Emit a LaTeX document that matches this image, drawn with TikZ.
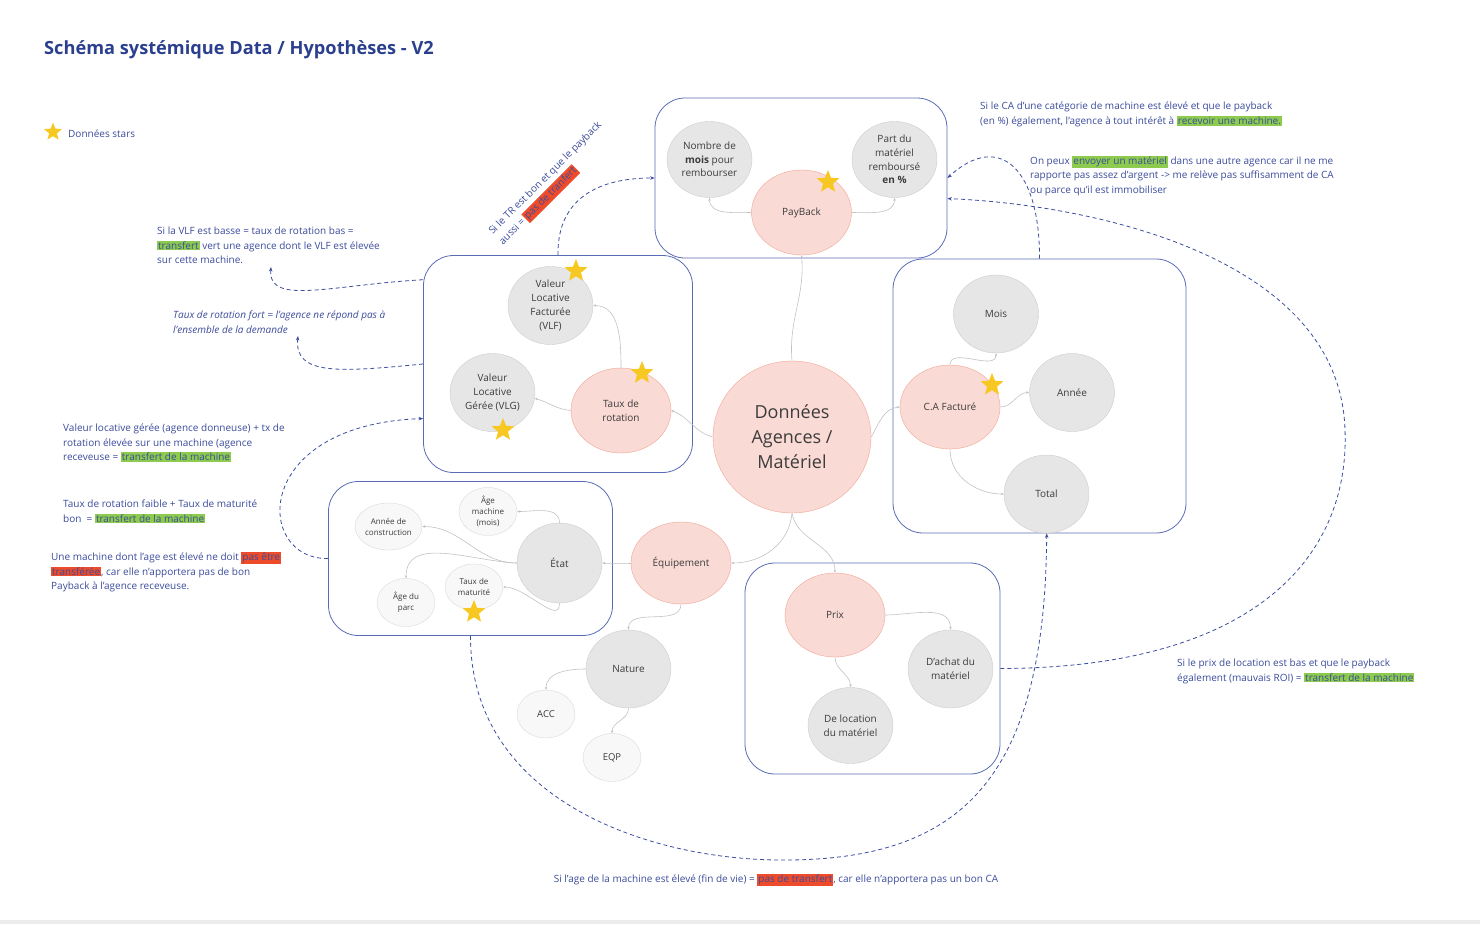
\documentclass[tikz,border=0pt]{standalone}
\usepackage{fontspec}
\setmainfont{Open Sans}
\usetikzlibrary{shapes.geometric,arrows.meta}

\definecolor{titleblue}{HTML}{2B3F8F}
\definecolor{notetext}{HTML}{3B4B9B}
\definecolor{boxblue}{HTML}{5A6BB5}
\definecolor{dashblue}{HTML}{3A4D9E}
\definecolor{pinkfill}{HTML}{FADAD4}
\definecolor{pinkline}{HTML}{F2A597}
\definecolor{grayfill}{HTML}{E6E6E6}
\definecolor{grayline}{HTML}{CDCDCD}
\definecolor{lightfill}{HTML}{F8F8F8}
\definecolor{lightline}{HTML}{DADADA}
\definecolor{linkgray}{HTML}{C2C2C2}
\definecolor{nodetext}{HTML}{3C3C3C}
\definecolor{staryellow}{HTML}{F8C822}
\definecolor{hlgreen}{HTML}{8DCB4F}
\definecolor{hlred}{HTML}{EE4B2B}

\newcommand{\hlg}[1]{{\setlength{\fboxsep}{1pt}\colorbox{hlgreen}{#1}}}
\newcommand{\hlr}[1]{{\setlength{\fboxsep}{1pt}\colorbox{hlred}{#1}}}

\begin{document}
\begin{tikzpicture}[x=1pt,y=-1pt]
\tikzstyle{pinkbub}=[ellipse, draw=pinkline, fill=pinkfill, inner sep=0pt, align=center, text=nodetext, minimum width=100pt, minimum height=83pt, font=\fontsize{10}{13.7}\selectfont]
\tikzstyle{graybub}=[ellipse, draw=grayline, fill=grayfill, inner sep=0pt, align=center, text=nodetext, minimum width=85pt, minimum height=78pt, font=\fontsize{10}{13.7}\selectfont]
\tikzstyle{smallbub}=[ellipse, draw=lightline, fill=lightfill, inner sep=0pt, align=center, text=nodetext, minimum width=58pt, minimum height=48pt, font=\fontsize{8}{11}\selectfont]
\tikzstyle{group}=[draw=boxblue, line width=0.8pt, rounded corners=30pt]
\tikzstyle{link}=[draw=linkgray, line width=0.6pt, -{Stealth[length=3pt,width=2.5pt]}]
\tikzstyle{hyp}=[draw=dashblue, line width=0.8pt, dash pattern=on 4pt off 3pt, -{Stealth[length=4.5pt,width=3.5pt]}]
\tikzstyle{note}=[anchor=north west, align=left, inner sep=0pt, text=notetext, font=\fontsize{10}{14.5}\selectfont]
\tikzstyle{starry}=[star, star points=5, star point ratio=2.3, fill=staryellow, inner sep=0pt, minimum size=24pt]

\useasboundingbox (0,0) rectangle (1480,924);
\fill[gray!15] (0,920) rectangle (1480,924);

% Title
\node at (44,50) [anchor=west, inner sep=0pt, text=titleblue, font=\fontsize{18.2}{21}\selectfont\bfseries] (title) {Schéma systémique Data / Hypothèses - V2};
\node at (68,134) [anchor=west, inner sep=0pt, text=notetext, font=\fontsize{10}{12}\selectfont] (legend) {Données stars};

% Groups
\node at (801,178) [group, minimum width=292pt, minimum height=160pt] (pbbox) {};
\node at (558,364) [group, minimum width=269pt, minimum height=217pt] (vlfbox) {};
\node at (1039.5,396) [group, minimum width=293pt, minimum height=274pt] (cabox) {};
\node at (470.5,558.5) [group, minimum width=284pt, minimum height=154pt] (etatbox) {};
\node at (872.5,668.5) [group, minimum width=255pt, minimum height=211pt] (prixbox) {};

% Centre
\node at (792,437) [pinkbub, minimum width=158pt, minimum height=152pt, font=\fontsize{18}{25}\selectfont] (donnees) {Données\\Agences /\\Matériel};

% Payback
\node at (801.5,212.5) [pinkbub, minimum height=85pt] (payback) {PayBack};
\node at (709.5,159.5) [graybub, minimum height=76pt] (nbmois) {Nombre de\\\textbf{mois} pour\\rembourser};
\node at (894.5,159.5) [graybub, minimum height=76pt] (partrem) {Part du\\matériel\\remboursé\\\textbf{en \%}};

% Rotation
\node at (550.5,305.5) [graybub] (vlf) {Valeur\\Locative\\Facturée\\(VLF)};
\node at (492.5,392.5) [graybub] (vlg) {Valeur\\Locative\\Gérée (VLG)};
\node at (621,410.5) [pinkbub, minimum height=85pt] (taux) {Taux de\\rotation};

% CA
\node at (950,407) [pinkbub, minimum height=84pt] (cafact) {C.A Facturé};
\node at (996,314) [graybub] (mois) {Mois};
\node at (1072,392.5) [graybub] (annee) {Année};
\node at (1046.5,494) [graybub] (total) {Total};

% Etat
\node at (559.5,563) [graybub, minimum height=80pt] (etat) {État};
\node at (488,511.5) [smallbub] (agemach) {Âge\\machine\\(mois)};
\node at (388.5,526.5) [smallbub, minimum width=67pt, minimum height=47pt] (anneecons) {Année de\\construction};
\node at (406,602.5) [smallbub] (ageparc) {Âge du\\parc};
\node at (474,587) [smallbub, minimum height=46pt] (matur) {Taux de\\maturité};

% Equipement
\node at (681,563) [pinkbub, minimum height=82pt] (equip) {Équipement};
\node at (628.5,669) [graybub] (nature) {Nature};
\node at (546,714) [smallbub, font=\fontsize{9.5}{11}\selectfont] (acc) {ACC};
\node at (612,757.5) [smallbub, font=\fontsize{9.5}{11}\selectfont] (eqp) {EQP};

% Prix
\node at (835,615) [pinkbub, minimum height=84pt] (prix) {Prix};
\node at (950.5,669) [graybub] (achat) {D'achat du\\matériel};
\node at (850.5,725.5) [graybub, minimum height=76pt] (location) {De location\\du matériel};

% Links
\draw [link] (donnees.north) to[out=95,in=-85] (payback.south);
\draw [link] (payback.west) to[out=180,in=-90] (nbmois.south);
\draw [link] (payback.east) to[out=0,in=-90] (partrem.south);
\draw [link] (donnees.west) to[out=165,in=-20] (taux.east);
\draw [link] (taux.north) to[out=90,in=0] (vlf.east);
\draw [link] (taux.west) to[out=175,in=-15] (vlg.-8);
\draw [link] (donnees.east) to[out=60,in=185] (cafact.west);
\draw [link] (cafact.north) to[out=90,in=-90] (mois.south);
\draw [link] (cafact.east) to[out=0,in=180] (annee.west);
\draw [link] (cafact.south) to[out=-90,in=180] (total.west);
\draw [link] (donnees.south) to[out=-95,in=0] (equip.east);
\draw [link] (donnees.south) to[out=-80,in=90] (prix.north);
\draw [link] (equip.west) to[out=180,in=0] (etat.east);
\draw [link] (etat.north) to[out=90,in=0] (agemach.east);
\draw [link] (etat.west) to[out=180,in=0] (anneecons.east);
\draw [link] (etat.west) to[out=178,in=90] (ageparc.north);
\draw [link] (etat.south) to[out=-90,in=0] (matur.east);
\draw [link] (equip.south) to[out=-90,in=90] (nature.north);
\draw [link] (nature.west) to[out=180,in=90] (acc.north);
\draw [link] (nature.south) to[out=-90,in=90] (eqp.north);
\draw [link] (prix.east) to[out=0,in=90] (achat.north);
\draw [link] (prix.south) to[out=-90,in=90] (location.north);

% Stars
\foreach \sx/\sy in {828/182, 576/271, 503/430, 642/373, 992/385, 474/612}
\node at (\sx,\sy) [starry] (star_\sx) {};
\node at (53,132) [starry, minimum size=19pt] (star_legend) {};

% Hypotheses
\coordinate (vlfnote) at (271,267);
\coordinate (tauxnote) at (298,336);
\draw [hyp] (vlfbox.148.8) .. controls (330,285) and (268,306) .. (vlfnote);
\draw [hyp] (vlfbox.west) .. controls (340,372) and (294,376) .. (tauxnote);
\draw [hyp] (etatbox.west) .. controls (255,560) and (250,425) .. (vlfbox.202);
\draw [hyp] (vlfbox.north) .. controls (557,205) and (590,178) .. (pbbox.west);
\draw [hyp] (cabox.north) .. controls (1040,170) and (1000,130) .. (pbbox.east);
\draw [hyp] (prixbox.east) .. controls (1250,668) and (1350,560) .. (1345,430) .. controls (1340,260) and (1100,205) .. (pbbox.-8.2);
\draw [hyp] (etatbox.south) .. controls (470,800) and (650,862) .. (790,860) .. controls (960,858) and (1045,780) .. (cabox.-87);

% Text
\node at (157,227) [note] (n_vlf) {Si la VLF est basse = taux de rotation bas =\\\hlg{transfert} vert une agence dont le VLF est élevée\\sur cette machine.};
\node at (173,311) [note, font=\fontsize{10}{14.5}\selectfont\itshape] (n_taux) {Taux de rotation fort = l'agence ne répond pas à\\l'ensemble de la demande};
\node at (551,184) [rotate=45, align=left, inner sep=0pt, text=notetext, font=\fontsize{10}{14.5}\selectfont] (n_tr) {Si le TR est bon et que le payback\\aussi = \hlr{pas de tranfert}};
\node at (980,102) [note] (n_ca) {Si le CA d'une catégorie de machine est élevé et que le payback\\(en \%) également, l'agence à tout intérêt à \hlg{recevoir une machine.}};
\node at (1030,155.5) [note] (n_env) {On peux \hlg{envoyer un matériel} dans une autre agence car il ne me\\rapporte pas assez d'argent -> me relève pas suffisamment de CA\\ou parce qu'il est immobiliser};
\node at (63,424) [note] (n_vlg) {Valeur locative gérée (agence donneuse) + tx de\\rotation élevée sur une machine (agence\\receveuse = \hlg{transfert de la machine}};
\node at (63,500) [note] (n_mat) {Taux de rotation faible + Taux de maturité\\bon\ \ = \hlg{transfert de la machine}};
\node at (51,552) [note] (n_age) {Une machine dont l'age est élevé ne doit \hlr{pas être}\\\hlr{transférée}, car elle n'apportera pas de bon\\Payback à l'agence receveuse.};
\node at (1177,659) [note] (n_prix) {Si le prix de location est bas et que le payback\\également (mauvais ROI) = \hlg{transfert de la machine}};
\node at (776,880) [inner sep=0pt, text=notetext, font=\fontsize{10}{14.5}\selectfont] (n_fin) {Si l'age de la machine est élevé (fin de vie) = \hlr{pas de transfert}, car elle n'apportera pas un bon CA};
\end{tikzpicture}
\end{document}
